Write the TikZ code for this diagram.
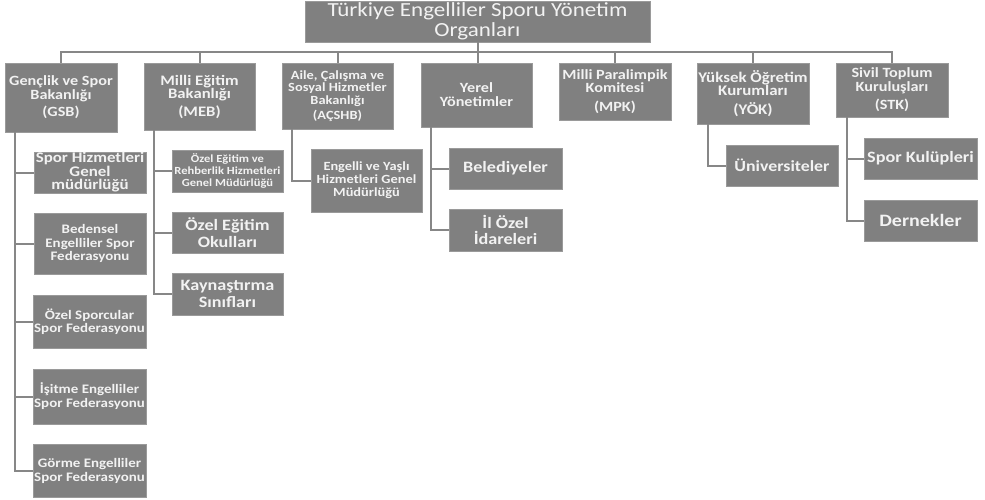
\documentclass[tikz,border=0pt]{standalone}
\usepackage{fontspec}
\setmainfont[FakeStretch=1.15]{Carlito}
\definecolor{boxg}{HTML}{808080}
\definecolor{boxe}{HTML}{9A9A9A}
\definecolor{txt}{HTML}{F2F2F2}
\definecolor{lin}{HTML}{878787}
\begin{document}
\begin{tikzpicture}[x=1pt,y=-1pt,
  box/.style={fill=boxg, draw=boxe, line width=0.8pt, text=txt, align=center, inner sep=0pt, font=\bfseries},
  conn/.style={draw=lin, line width=2pt}]
\useasboundingbox[fill=white] (0,0) rectangle (985,499);
% top
\node[box, font=\mdseries\fontsize{20}{20}\selectfont, minimum width=345pt, minimum height=41pt] (top) at (477.5,21.5) {Türkiye Engelliler Sporu Yönetim\\Organları};
% level 1
\node[box, font=\bfseries\fontsize{14.1}{13.5}\selectfont, minimum width=112pt, minimum height=69pt] (gsb) at (61,97.5) {Gençlik ve Spor\\Bakanlığı\\[4pt](GSB)};
\node[box, font=\bfseries\fontsize{14.5}{13.5}\selectfont, minimum width=111pt, minimum height=67pt] (meb) at (199.5,96.5) {Milli Eğitim\\Bakanlığı\\[4pt](MEB)};
\node[box, font=\bfseries\fontsize{12.5}{12.5}\selectfont, minimum width=111pt, minimum height=66pt] (acs) at (337.5,96) {Aile, Çalışma ve\\Sosyal Hizmetler\\Bakanlığı\\[3pt](AÇSHB)};
\node[box, font=\bfseries\fontsize{14.1}{14}\selectfont, minimum width=111pt, minimum height=64pt] (yerel) at (476.5,95) {Yerel\\Yönetimler};
\node[box, font=\bfseries\fontsize{14.1}{13.5}\selectfont, minimum width=112pt, minimum height=57pt] (mpk) at (615,91.5) {Milli Paralimpik\\Komitesi\\[5pt](MPK)};
\node[box, font=\bfseries\fontsize{14.7}{13.5}\selectfont, minimum width=112pt, minimum height=61pt] (yok) at (753,93.5) {Yüksek Öğretim\\Kurumları\\[5pt](YÖK)};
\node[box, font=\bfseries\fontsize{14.1}{13.5}\selectfont, minimum width=112pt, minimum height=54pt] (stk) at (892,90) {Sivil Toplum\\Kuruluşları\\[5pt](STK)};
% GSB children
\node[box, font=\bfseries\fontsize{14.7}{13.5}\selectfont, minimum width=112pt, minimum height=41pt] (g1) at (90,172.5) {Spor Hizmetleri\\Genel\\müdürlüğü};
\node[box, font=\bfseries\fontsize{13}{13.5}\selectfont, minimum width=112pt, minimum height=61pt] (g2) at (90,243.5) {Bedensel\\Engelliler Spor\\Federasyonu};
\node[box, font=\bfseries\fontsize{13}{13.5}\selectfont, minimum width=113pt, minimum height=53pt] (g3) at (89.5,321.5) {Özel Sporcular\\Spor Federasyonu};
\node[box, font=\bfseries\fontsize{13}{14}\selectfont, minimum width=113pt, minimum height=55pt] (g4) at (89.5,396.5) {İşitme Engelliler\\Spor Federasyonu};
\node[box, font=\bfseries\fontsize{13}{14}\selectfont, minimum width=113pt, minimum height=53pt] (g5) at (89.5,470.5) {Görme Engelliler\\Spor Federasyonu};
% MEB children
\node[box, font=\bfseries\fontsize{10.9}{12}\selectfont, minimum width=111pt, minimum height=42pt] (m1) at (227.5,171) {Özel Eğitim ve\\Rehberlik Hizmetleri\\Genel Müdürlüğü};
\node[box, font=\bfseries\fontsize{15.8}{16.5}\selectfont, minimum width=111pt, minimum height=41pt] (m2) at (227.5,232.5) {Özel Eğitim\\Okulları};
\node[box, font=\bfseries\fontsize{15.8}{16.5}\selectfont, minimum width=111pt, minimum height=42pt] (m3) at (227.5,294) {Kaynaştırma\\Sınıfları};
% ACSHB child
\node[box, font=\bfseries\fontsize{12.5}{13}\selectfont, minimum width=111pt, minimum height=63pt] (a1) at (366.5,180.5) {Engelli ve Yaşlı\\Hizmetleri Genel\\Müdürlüğü};
% Yerel children
\node[box, font=\bfseries\fontsize{15.8}{16}\selectfont, minimum width=113pt, minimum height=41pt] (y1) at (505.5,168.5) {Belediyeler};
\node[box, font=\bfseries\fontsize{15.8}{16}\selectfont, minimum width=113pt, minimum height=42pt] (y2) at (505.5,230) {İl Özel\\İdareleri};
% YOK child
\node[box, font=\bfseries\fontsize{15.5}{16}\selectfont, minimum width=112pt, minimum height=41pt] (u1) at (782,165.5) {Üniversiteler};
% STK children
\node[box, font=\bfseries\fontsize{15.8}{16}\selectfont, minimum width=113pt, minimum height=41pt] (s1) at (920.5,158.5) {Spor Kulüpleri};
\node[box, font=\bfseries\fontsize{17.4}{16}\selectfont, minimum width=113pt, minimum height=41pt] (s2) at (920.5,220.5) {Dernekler};
% bus
\coordinate (bus) at (0,52);
\draw[conn] (gsb.north) -- (gsb.north |- bus) -- (stk.north |- bus) -- (stk.north);
\foreach \n in {meb,acs,mpk,yok}{\draw[conn] (\n.north) -- (\n.north |- bus);}
\draw[conn] (top.south) -- (top.south |- yerel.north);
% children connectors
\foreach \c in {g1,g2,g3,g4,g5}{\draw[conn] (gsb.south west) ++(10,0) |- (\c.west);}
\foreach \c in {m1,m2,m3}{\draw[conn] (meb.south west) ++(10,0) |- (\c.west);}
\draw[conn] (acs.south west) ++(10,0) |- (a1.west);
\foreach \c in {y1,y2}{\draw[conn] (yerel.south west) ++(10,0) |- (\c.west);}
\draw[conn] (yok.south west) ++(11,0) |- (u1.west);
\foreach \c in {s1,s2}{\draw[conn] (stk.south west) ++(11,0) |- (\c.west);}
\end{tikzpicture}
\end{document}
